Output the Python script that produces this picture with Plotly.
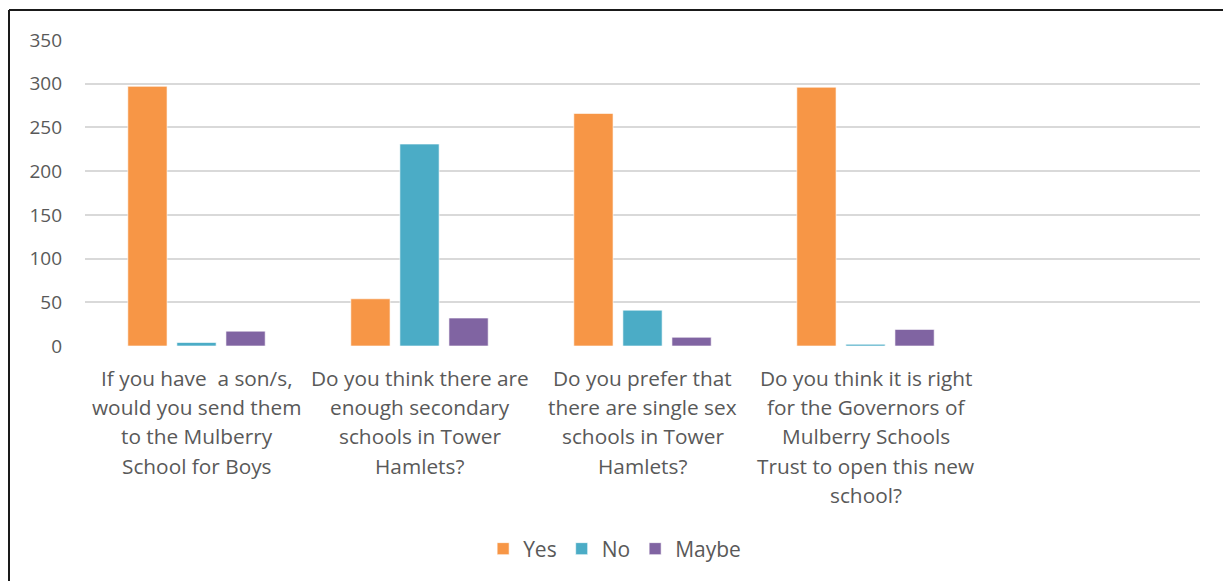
import plotly.graph_objects as go

# Survey questions (x categories) and how each is wrapped under the axis
categories = [
    "If you have  a son/s, would you send them to the Mulberry School for Boys",
    "Do you think there are enough secondary schools in Tower Hamlets?",
    "Do you prefer that there are single sex schools in Tower Hamlets?",
    "Do you think it is right for the Governors of Mulberry Schools Trust to open this new school?",
]
label_lines = [
    ["If you have\u00a0 a son/s,", "would you send them", "to the Mulberry", "School for Boys"],
    ["Do you think there are", "enough secondary", "schools in Tower", "Hamlets?"],
    ["Do you prefer that", "there are single sex", "schools in Tower", "Hamlets?"],
    ["Do you think it is right", "for the Governors of", "Mulberry Schools", "Trust to open this new", "school?"],
]

# Responses per question
yes_counts = [297, 54, 266, 296]
no_counts = [4, 231, 41, 2]
maybe_counts = [17, 32, 10, 19]

y_ticks = [0, 50, 100, 150, 200, 250, 300, 350]

FONT = "Open Sans"
TEXT_COLOR = "#595959"

series = [
    ("Yes", yes_counts, "#F79646"),
    ("No", no_counts, "#4BACC6"),
    ("Maybe", maybe_counts, "#8064A2"),
]

fig = go.Figure()
for name, vals, color in series:
    fig.add_trace(go.Bar(
        name=name, x=categories, y=vals,
        marker=dict(color=color, line=dict(color="rgba(255,255,255,0.6)", width=1)),
    ))

# Wrapped question text under each group, one annotation per line
annotations = []
for cat, lines in zip(categories, label_lines):
    for i, line in enumerate(lines):
        annotations.append(dict(
            x=cat, xref="x", y=0, yref="paper",
            text=line, showarrow=False,
            xanchor="center", yanchor="middle",
            yshift=-(32 + 29.2 * i),
            font=dict(family=FONT, size=20.8, color=TEXT_COLOR),
        ))

# Chart frame
frame = dict(color="#1a1a1a", width=2)
shapes = [
    dict(type="line", xref="paper", yref="paper",
         x0=(9 - 85) / 1115, x1=1.1, y0=(346 - 10) / 306, y1=(346 - 10) / 306, line=frame),
    dict(type="line", xref="paper", yref="paper",
         x0=(9 - 85) / 1115, x1=(9 - 85) / 1115, y0=(346 - 10) / 306, y1=-0.8, line=frame),
]

fig.update_layout(
    width=1223, height=581,
    margin=dict(l=85, r=23, t=40, b=235),
    paper_bgcolor="white", plot_bgcolor="white",
    barmode="group", bargap=0.34, bargroupgap=0.2,
    font=dict(family=FONT, color=TEXT_COLOR),
    xaxis=dict(
        type="category", categoryorder="array", categoryarray=categories,
        range=[-0.5, 4.5], showticklabels=False, showgrid=False,
        showline=False, zeroline=False, ticks="",
    ),
    yaxis=dict(
        range=[0, 350], tickvals=y_ticks, showgrid=True,
        gridcolor="#D9D9D9", gridwidth=2, zeroline=False, showline=False,
        ticks="", ticklabelstandoff=22,
        tickfont=dict(family=FONT, size=19, color=TEXT_COLOR),
    ),
    legend=dict(
        orientation="h", x=0.475, xanchor="center",
        y=(346 - 549) / 306, yanchor="middle",
        font=dict(family=FONT, size=21, color=TEXT_COLOR),
        itemwidth=30, traceorder="normal",
    ),
    annotations=annotations,
    shapes=shapes,
)

fig.write_html("out.html")
